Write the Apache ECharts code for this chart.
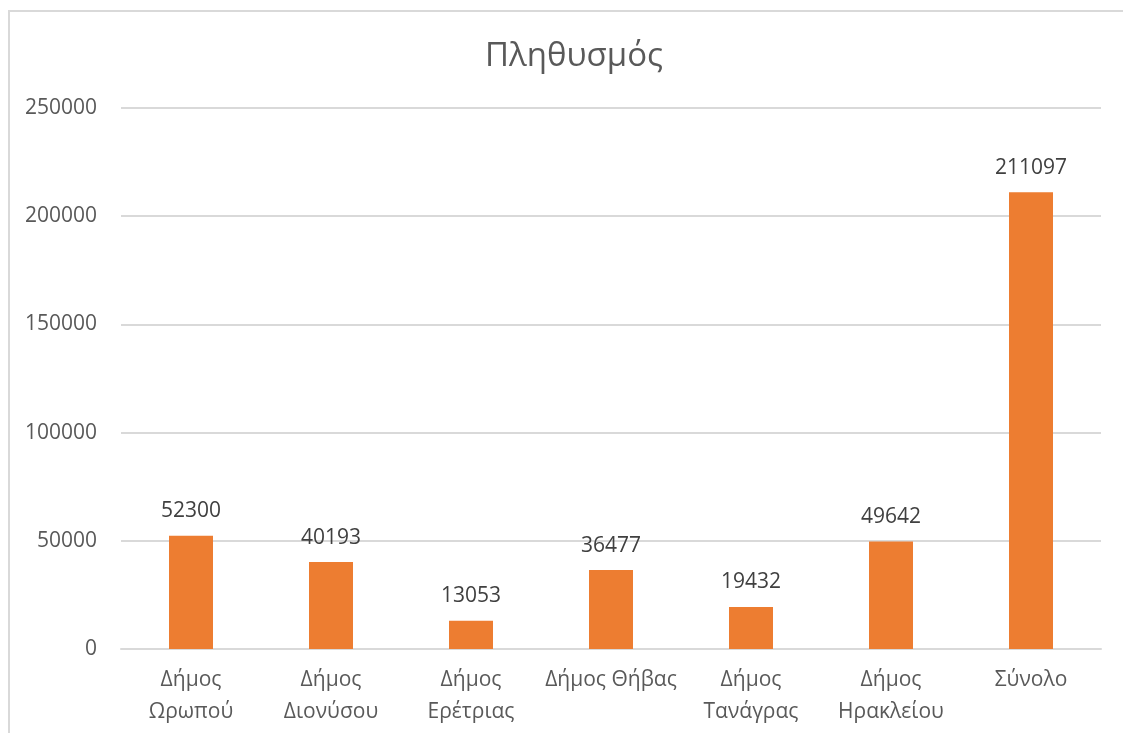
<!DOCTYPE html>
<html>
<head>
<meta charset="utf-8">
<script src="https://cdn.jsdelivr.net/npm/echarts@6/dist/echarts.min.js"></script>
<style>
  html, body { margin: 0; padding: 0; background: #fff; overflow: hidden; }
  #frame { position: absolute; left: 8px; top: 10px; width: 1130px; height: 740px; border: 2px solid #d9d9d9; box-sizing: border-box; }
  #chart { position: absolute; left: 0; top: 0; width: 1123px; height: 733px; }
</style>
</head>
<body>
<div id="frame"></div>
<div id="chart"></div>
<script>
  const categories = ['Δήμος\nΩρωπού', 'Δήμος\nΔιονύσου', 'Δήμος\nΕρέτριας', 'Δήμος Θήβας', 'Δήμος\nΤανάγρας', 'Δήμος\nΗρακλείου', 'Σύνολο'];
  const population = [52300, 40193, 13053, 36477, 19432, 49642, 211097];

  const fontFamily = '"Open Sans", "Noto Sans", sans-serif';
  const chart = echarts.init(document.getElementById('chart'));

  const option = {
    animation: false,
    title: {
      text: 'Πληθυσμός',
      left: 480,
      top: 35,
      textStyle: { fontFamily: fontFamily, fontSize: 33, fontWeight: 'normal', color: '#595959' }
    },
    grid: { left: 121, right: 22, top: 108, bottom: 84 },
    xAxis: {
      type: 'category',
      data: categories,
      axisLine: { lineStyle: { color: '#d9d9d9', width: 2 } },
      axisTick: { show: false },
      axisLabel: {
        interval: 0,
        margin: 15,
        lineHeight: 32,
        fontFamily: fontFamily,
        fontSize: 21,
        color: '#595959'
      }
    },
    yAxis: {
      type: 'value',
      min: 0,
      max: 250000,
      interval: 50000,
      axisLine: { show: false },
      axisTick: { show: false },
      splitLine: { lineStyle: { color: '#d9d9d9', width: 2 } },
      axisLabel: {
        margin: 24,
        formatter: (v) => String(v),
        fontFamily: fontFamily,
        fontSize: 21,
        color: '#595959'
      }
    },
    series: [{
      type: 'bar',
      data: population,
      barWidth: 44,
      itemStyle: { color: '#ed7d31' },
      label: {
        show: true,
        position: 'top',
        distance: 14,
        fontFamily: fontFamily,
        fontSize: 21,
        color: '#404040'
      }
    }]
  };

  chart.setOption(option);
</script>
</body>
</html>
